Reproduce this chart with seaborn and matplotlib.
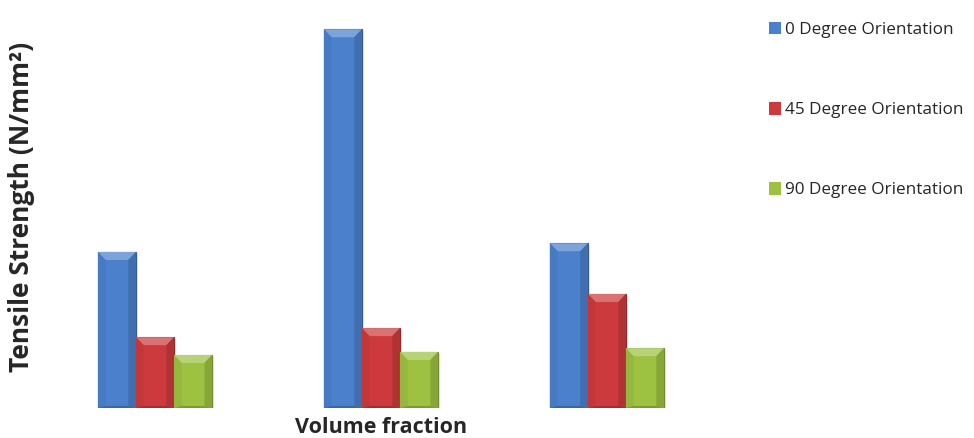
import numpy as np
import pandas as pd
import seaborn as sns
import matplotlib
matplotlib.use("Agg")
import matplotlib.pyplot as plt
from matplotlib.patches import Polygon
from matplotlib.colors import to_rgb

# Tensile strength for three volume fractions and three fibre orientations
fractions = ["V1", "V2", "V3"]
orientations = ["0 Degree Orientation", "45 Degree Orientation", "90 Degree Orientation"]
strength_0 = [41.2, 100.0, 43.5]
strength_45 = [18.7, 21.1, 30.1]
strength_90 = [14.0, 14.8, 15.8]
colors = ["#4A80CC", "#CC3A3D", "#9DC141"]

df = pd.DataFrame({
    "fraction": fractions * 3,
    "orientation": [o for o in orientations for _ in fractions],
    "strength": strength_0 + strength_45 + strength_90,
})

sns.set_style("white")
plt.rcParams["font.family"] = ["Open Sans", "DejaVu Sans"]

fig = plt.figure(figsize=(9.74, 4.38), dpi=100)
ax = fig.add_axes([0.0431, 0.0685, 0.696, 0.908])
YMAX = 105

sns.barplot(data=df, x="fraction", y="strength", hue="orientation",
            palette=colors, saturation=1, width=0.505, ax=ax, legend=True,
            edgecolor="none", linewidth=0)

ax.set_xlim(-0.5, 2.5)
ax.set_ylim(0, YMAX)


def darken(c, f):
    r, g, b = to_rgb(c)
    return (r * f, g * f, b * f)


def lighten(c, f):
    r, g, b = to_rgb(c)
    return (r + (1 - r) * f, g + (1 - g) * f, b + (1 - b) * f)


# bevelled look: darker outline, lighter top facet, shaded sides, soft shadow
px_y = YMAX / (0.908 * 438)       # data units per pixel, vertical
for bars, col in zip(ax.containers, colors):
    for p in bars:
        x0, y0 = p.get_x(), p.get_y()
        w, h = p.get_width(), p.get_height()
        z = p.get_zorder()
        p.set_edgecolor(darken(col, 0.72))
        p.set_linewidth(0.8)
        ax.add_patch(plt.Rectangle((x0 + w * 0.06, y0 - 2 * px_y), w, h, facecolor=(0, 0, 0, 0.10),
                                   edgecolor="none", zorder=z - 0.1))
        bev = w * 0.2
        bevy = 8 * px_y
        top = y0 + h
        ax.add_patch(Polygon([(x0, top), (x0 + w, top), (x0 + w - bev, top - bevy),
                              (x0 + bev, top - bevy)], closed=True,
                             facecolor=lighten(col, 0.28), edgecolor="none", zorder=z + 0.1))
        ax.add_patch(Polygon([(x0, top), (x0 + bev, top - bevy), (x0 + bev, y0 + 2 * px_y),
                              (x0, y0)], closed=True,
                             facecolor=darken(col, 0.95), edgecolor="none", zorder=z + 0.1))
        ax.add_patch(Polygon([(x0 + w, top), (x0 + w - bev, top - bevy), (x0 + w - bev, y0 + 2 * px_y),
                              (x0 + w, y0)], closed=True,
                             facecolor=darken(col, 0.86), edgecolor="none", zorder=z + 0.1))
        ax.add_patch(Polygon([(x0, y0), (x0 + w, y0), (x0 + w - bev, y0 + 2 * px_y),
                              (x0 + bev, y0 + 2 * px_y)], closed=True,
                             facecolor=darken(col, 0.8), edgecolor="none", zorder=z + 0.1))

ax.set_xticks([])
ax.set_yticks([])
for s in ax.spines.values():
    s.set_visible(False)

ax.set_xlabel("Volume fraction", fontsize=15.5, fontweight="bold")
ax.xaxis.set_label_coords(0.5, -0.022, transform=ax.transAxes)
ax.xaxis.label.set_va("top")
ax.set_ylabel("")
fig.text(22 / 974, 1 - 207 / 438, "Tensile Strength (N/mm²)", rotation=90,
         ha="center", va="center", fontsize=19, fontweight="bold")

handles, labels = ax.get_legend_handles_labels()
ax.legend(handles, labels, loc="upper left", bbox_to_anchor=(0.782, 0.966),
          bbox_transform=fig.transFigure, frameon=False, fontsize=12.3,
          handlelength=0.75, handleheight=0.75, handletextpad=0.22,
          labelspacing=3.75, borderaxespad=0)

fig.savefig("out.png", dpi=100)
